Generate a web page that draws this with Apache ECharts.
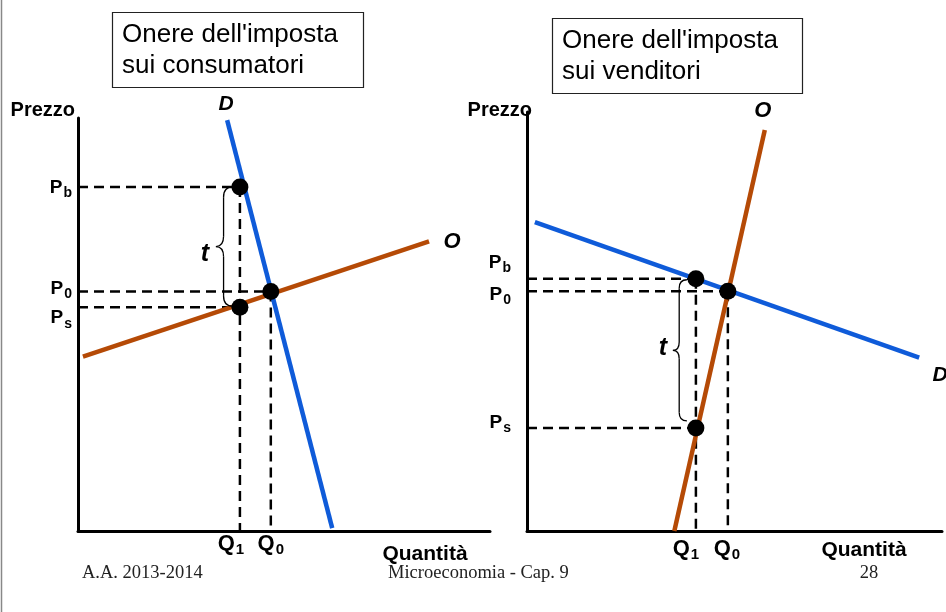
<!DOCTYPE html>
<html><head><meta charset="utf-8">
<script src="https://cdn.jsdelivr.net/npm/echarts@6/dist/echarts.min.js"></script>
<style>html,body{margin:0;padding:0;background:#fff}#c{width:946px;height:612px}</style>
</head><body><div id="c"></div>
<script>
// ---- Left panel: tax burden on consumers (values in abstract units 0..10)
const leftDemand = [[3.62, 9.95], [6.17, 0.07]];
const leftSupply = [[0.12, 4.22], [8.52, 7.01]];
const leftQuantities = [3.93, 4.68];        // Q1, Q0
const leftPrices = [8.33, 5.80, 5.42];      // Pb, P0, Ps
// ---- Right panel: tax burden on sellers
const rightDemand = [[0.19, 7.37], [9.45, 4.14]];
const rightSupply = [[3.55, 0.0], [5.73, 9.57]];
const rightQuantities = [4.07, 4.84];       // Q1, Q0
const rightPrices = [6.02, 5.72, 2.46];     // Pb, P0, Ps
// ---- Labels
const priceSubs = ['b', '0', 's'];
const quantitySubs = ['1', '0'];
const titles = ["Onere dell'imposta\nsui consumatori", "Onere dell'imposta\nsui venditori"];
const curveNames = ['D', 'O'];
const axisNames = ['Prezzo', 'Quantità'];
const footer = ['A.A. 2013-2014', 'Microeconomia - Cap. 9', '28'];

const F = '"Liberation Sans", Arial, sans-serif';
const FS = '"Liberation Serif", "Times New Roman", serif';
const BLUE = '#0f5bd9', ORANGE = '#b54a06';

const panels = [
  {demand: leftDemand, supply: leftSupply, q: leftQuantities, p: leftPrices,
   grid: {left: 78, top: 118, width: 412, height: 413}},
  {demand: rightDemand, supply: rightSupply, q: rightQuantities, p: rightPrices,
   grid: {left: 527, top: 112, width: 415, height: 419}}
];

const chart = echarts.init(document.getElementById('c'), null, {renderer: 'canvas'});
const grids = [], xAxes = [], yAxes = [], series = [];
const axisCommon = {
  type: 'value', min: 0, max: 10,
  axisLine: {show: true, onZero: false, lineStyle: {color: '#000', width: 3}},
  axisTick: {show: false}, axisLabel: {show: false}, splitLine: {show: false}
};
panels.forEach((pn, gi) => {
  grids.push(pn.grid);
  xAxes.push(Object.assign({gridIndex: gi}, axisCommon));
  yAxes.push(Object.assign({gridIndex: gi}, axisCommon));
  const pts = [[pn.q[0], pn.p[0]], [pn.q[1], pn.p[1]], [pn.q[0], pn.p[2]]];
  const ax = {xAxisIndex: gi, yAxisIndex: gi, silent: true, animation: false};
  // dashed guides
  pts.forEach(pt => {
    series.push(Object.assign({type: 'line', symbol: 'none', z: 2,
      data: [[0, pt[1]], pt],
      lineStyle: {color: '#000', width: 2.5, type: [10, 6]}}, ax));
  });
  pn.q.forEach(qv => {
    const top = Math.max(...pts.filter(pt => pt[0] === qv).map(pt => pt[1]));
    series.push(Object.assign({type: 'line', symbol: 'none', z: 2,
      data: [[qv, top], [qv, 0]],
      lineStyle: {color: '#000', width: 2.5, type: [10, 6]}}, ax));
  });
  series.push(Object.assign({type: 'line', symbol: 'none', z: 3, data: pn.demand,
    lineStyle: {color: BLUE, width: 4.5}}, ax));
  series.push(Object.assign({type: 'line', symbol: 'none', z: 3, data: pn.supply,
    lineStyle: {color: ORANGE, width: 4.5}}, ax));
  series.push(Object.assign({type: 'scatter', symbol: 'circle', symbolSize: 17, z: 5,
    itemStyle: {color: '#000', opacity: 1}, data: pts}, ax));
});

chart.setOption({
  animation: false,
  grid: grids, xAxis: xAxes, yAxis: yAxes, series: series
});

function px(gi, pt) { return chart.convertToPixel({gridIndex: gi}, pt); }
function subText(main, sub, x, y, align, size, subSize, drop) {
  return {type: 'text', x: x, y: y, z: 10, silent: true, style: {
    text: '{m|' + main + '}{s|' + sub + '}', align: align, verticalAlign: 'middle',
    rich: {
      m: {fontFamily: F, fontWeight: 'bold', fontSize: size, fill: '#000', color: '#000'},
      s: {fontFamily: F, fontWeight: 'bold', fontSize: subSize, padding: [drop, 0, 0, 1], fill: '#000', color: '#000'}
    }}};
}
function txt(t, x, y, o) {
  return {type: 'text', x: x, y: y, z: 10, silent: true, style: Object.assign({
    text: t, fill: '#000', font: 'bold 20px ' + F, align: 'center', verticalAlign: 'middle'}, o || {})};
}
const braceStyle = {fill: null, stroke: '#000', lineWidth: 1.3};
function braceParts(xe, y1, y2, w) {
  const xv = xe - w * 0.55, xt = xe - w, ym = (y1 + y2) / 2, r = w * 0.6;
  const q = (a, b, c, d, e, f) => ({type: 'bezierCurve', z: 6, silent: true,
    shape: {x1: a, y1: b, cpx1: c, cpy1: d, x2: e, y2: f}, style: braceStyle});
  const l = (a, b, c, d) => ({type: 'line', z: 6, silent: true,
    shape: {x1: a, y1: b, x2: c, y2: d}, style: braceStyle});
  return [
    q(xe, y1, xv, y1, xv, y1 + r),
    l(xv, y1 + r, xv, ym - r),
    q(xv, ym - r, xv, ym, xt, ym),
    q(xt, ym, xv, ym, xv, ym + r),
    l(xv, ym + r, xv, y2 - r),
    q(xv, y2 - r, xv, y2, xe, y2)
  ];
}

const g = [];
g.push({type: 'line', shape: {x1: 1.5, y1: 0, x2: 1.5, y2: 612}, style: {stroke: '#888', lineWidth: 1.5}, silent: true});
// title boxes
const boxes = [{x: 112, y: 12, w: 251, h: 75}, {x: 552, y: 18, w: 250, h: 75}];
boxes.forEach((b, i) => {
  g.push({type: 'rect', shape: {x: b.x + 0.5, y: b.y + 0.5, width: b.w, height: b.h},
    style: {fill: '#fff', stroke: '#222', lineWidth: 1.2}, z: 8, silent: true});
  g.push({type: 'text', x: b.x + 10, y: b.y + b.h / 2 + 1, z: 9, silent: true,
    style: {text: titles[i], font: '26px ' + F, fill: '#000', lineHeight: 31, align: 'left', verticalAlign: 'middle'}});
});
// axis names
g.push(txt(axisNames[0], 75, 110, {align: 'right'}));
g.push(txt(axisNames[0], 532, 110, {align: 'right'}));
g.push(txt(axisNames[1], 425, 554, {font: 'bold 21px ' + F}));
g.push(txt(axisNames[1], 864, 550, {font: 'bold 21px ' + F}));

const cfg = [
  {pGap: 6, pOff: [1, -3, 11], qOff: [-9, 0], qDy: 13, brace: {dx: -7, d1: 0, d2: -1, w: 17}, tOff: [-11, 8],
   dLab: {end: 0, off: [-1, -16]}, oLab: {end: 1, off: [23, 0]}},
  {pGap: 16, pOff: [-16, 3, -5], qOff: [-10, -1], qDy: 18, brace: {dx: -9, d1: 1, d2: -7, w: 14}, tOff: [-10, -2],
   dLab: {end: 1, off: [21, 18]}, oLab: {end: 1, off: [-2, -19]}}
];
panels.forEach((pn, gi) => {
  const c = cfg[gi];
  const origin = px(gi, [0, 0]);
  pn.p.forEach((pv, i) => {
    const y = px(gi, [0, pv])[1];
    g.push(subText('P', priceSubs[i], origin[0] - c.pGap, y + c.pOff[i], 'right', 19, 14, 11));
  });
  pn.q.forEach((qv, i) => {
    const x = px(gi, [qv, 0])[0];
    g.push(subText('Q', quantitySubs[i], x + c.qOff[i], origin[1] + c.qDy, 'center', 22, 15, 12));
  });
  const dl = px(gi, pn.demand[c.dLab.end]);
  g.push(txt(curveNames[0], dl[0] + c.dLab.off[0], dl[1] + c.dLab.off[1], {font: 'italic bold 21px ' + F}));
  const ol = px(gi, pn.supply[c.oLab.end]);
  g.push(txt(curveNames[1], ol[0] + c.oLab.off[0], ol[1] + c.oLab.off[1], {font: 'italic bold 22px ' + F}));
  const top = px(gi, [pn.q[0], pn.p[0]]), bot = px(gi, [pn.q[0], pn.p[2]]);
  const xe = top[0] + c.brace.dx, y1 = top[1] + c.brace.d1, y2 = bot[1] + c.brace.d2;
  braceParts(xe, y1, y2, c.brace.w).forEach(e => g.push(e));
  g.push(txt('t', xe - c.brace.w + c.tOff[0], (y1 + y2) / 2 + c.tOff[1], {font: 'italic bold 25px ' + F}));
});
// footer
g.push(txt(footer[0], 82, 573, {font: '18.5px ' + FS, align: 'left', fill: '#222'}));
g.push(txt(footer[1], 388, 573, {font: '18.5px ' + FS, align: 'left', fill: '#222'}));
g.push(txt(footer[2], 869, 573, {font: '18.5px ' + FS, align: 'center', fill: '#222'}));

chart.setOption({graphic: {elements: g}});
</script></body></html>
